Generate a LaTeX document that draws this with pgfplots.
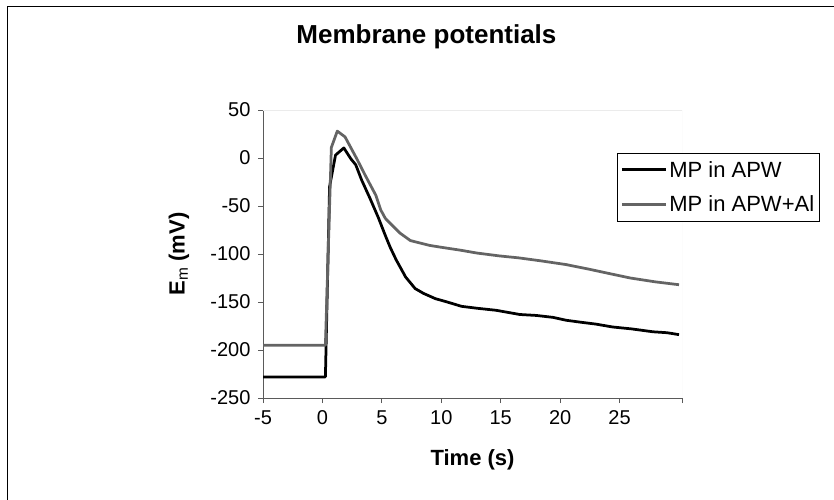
\documentclass[border=0pt]{standalone}
\usepackage{fontspec}
\setmainfont{Liberation Sans}
\usepackage{pgfplots}
\pgfplotsset{compat=1.18}

\pgfplotstableread{
t v
-5 -228
0.25 -228
0.6 -30
1.1 3
1.8 10.5
2.4 -1
2.8 -7
3.3 -23
4.0 -42
4.7 -62
5.3 -81
5.7 -93
6.2 -106
7.0 -124
7.8 -136
8.5 -141
9.5 -146.5
10.5 -150
11.7 -154.5
13 -156.5
14.6 -158.6
16.6 -163
18 -164
19.4 -166
20.5 -169
21.7 -171
23 -173
24.4 -176
26 -178
27.8 -181
29 -182
30 -184
}\apw

\pgfplotstableread{
t v
-5 -195
0.25 -195
0.75 11
1.25 28
1.9 22
2.9 -1
3.6 -18
4.5 -39
4.9 -54
5.3 -63
5.7 -68
6.5 -78
7.4 -86
9 -91
10 -93
11.6 -96
13 -99
14.9 -102
16.5 -104
18.3 -107
20.5 -111
22.5 -116
24 -120
25.9 -125
28 -129
30 -132
}\apwal

\definecolor{greyline}{RGB}{100,100,100}
\definecolor{axisgrey}{RGB}{90,90,90}

\begin{document}
\begin{tikzpicture}
\useasboundingbox (0pt,0pt) rectangle (834pt,-499pt);
\clip (0pt,0pt) rectangle (834pt,-499pt);
\draw[line width=1pt] (7pt,-6pt) rectangle (850pt,-520pt);
\begin{axis}[
    at={(263pt,-398pt)}, anchor=south west,
    scale only axis,
    width=419pt, height=288pt,
    xmin=-5, xmax=30.25,
    ymin=-250, ymax=50,
    xtick={-5,0,...,25},
    ytick={-250,-200,...,50},
    extra x ticks={30.25}, extra x tick labels={},
    axis x line*=bottom, axis y line*=left,
    axis line style={axisgrey, line width=1pt, -},
    tick style={axisgrey, line width=1pt},
    tick align=outside, major tick length=5pt,
    /pgf/number format/assume math mode=true,
    ticklabel style={font=\fontsize{20}{24}\selectfont},
    xticklabel style={yshift=-4pt},
    yticklabel style={xshift=-4pt},
    title={\textbf{Membrane potentials}},
    title style={font=\fontsize{26}{30}\selectfont, at={(axis description cs:0.39,1.233)}, anchor=center},
    xlabel={\textbf{Time (s)}},
    xlabel style={font=\fontsize{22}{26}\selectfont, at={(axis description cs:0.5,-0.215)}, anchor=center},
    ylabel={\textbf{E}\textsubscript{m}\textbf{ (mV)}},
    ylabel style={font=\fontsize{22}{26}\selectfont, at={(axis description cs:-0.2005,0.5)}, anchor=center},
    legend cell align=left,
    legend style={at={(axis description cs:0.845,0.852)}, anchor=north west,
        draw=black, line width=1pt, fill=white,
        font=\fontsize{22}{26}\selectfont,
        inner xsep=3pt, inner ysep=6pt, row sep=13pt},
    legend image code/.code={\draw[#1] (0pt,0pt) -- (44pt,0pt);},
]
\draw[black!8, line width=1pt] (rel axis cs:0,1) -- (rel axis cs:1,1) -- (rel axis cs:1,0);
\addplot[black, line width=2.75pt, line join=round] table[x=t, y=v] {\apw};
\addlegendentry{MP in APW}
\addplot[greyline, line width=2.75pt, line join=round] table[x=t, y=v] {\apwal};
\addlegendentry{MP in APW+Al}
\end{axis}
\end{tikzpicture}
\end{document}
